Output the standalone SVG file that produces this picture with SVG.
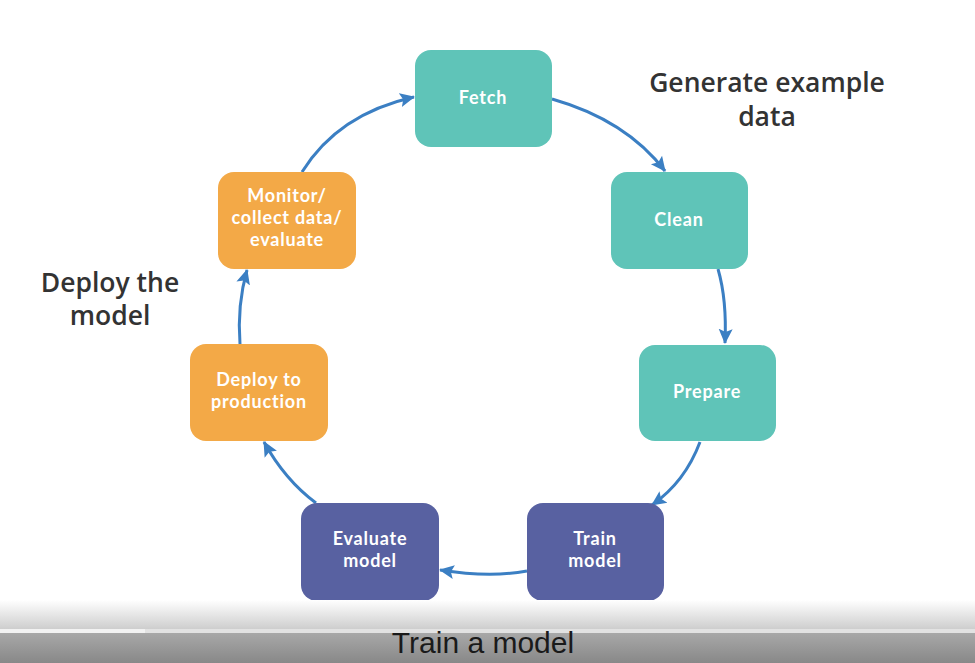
<svg xmlns="http://www.w3.org/2000/svg" width="975" height="663" viewBox="0 0 975 663">
<defs>
<style>
.teal{fill:#5fc4b8}
.purple{fill:#5861a1}
.orange{fill:#f3a947}
.lbl{font-family:Lato,"Open Sans","Liberation Sans",sans-serif;font-weight:700;font-size:18px;letter-spacing:0.8px;fill:#ffffff;text-anchor:middle}
.head{font-family:"Open Sans",Lato,"Liberation Sans",sans-serif;font-weight:600;font-size:26.5px;fill:#333333;text-anchor:middle}
.conn{fill:none;stroke:#3b7fc3;stroke-width:3;marker-end:url(#arr)}
</style>
<marker id="arr" markerUnits="userSpaceOnUse" markerWidth="16" markerHeight="16" viewBox="0 0 16 16" refX="14" refY="8" orient="auto">
<path d="M0,1 L15,8 L0,15 L3,8 Z" fill="#3b7fc3"/>
</marker>
<linearGradient id="fadeTop" x1="0" y1="0" x2="0" y2="1">
<stop offset="0" stop-color="#ffffff" stop-opacity="1"/>
<stop offset="1" stop-color="#cccccc"/>
</linearGradient>
<linearGradient id="bar" x1="0" y1="0" x2="0" y2="1">
<stop offset="0" stop-color="#a8a8a8"/>
<stop offset="1" stop-color="#888888"/>
</linearGradient>
</defs>
<rect width="975" height="663" fill="#ffffff"/>
<g id="connectors">
<path class="conn" d="M302 172 Q338 114 414 97"/>
<path class="conn" d="M552 99 Q626 120 665 171"/>
<path class="conn" d="M718 269 Q727 300 725 343"/>
<path class="conn" d="M700 442 Q685 482 652 505"/>
<path class="conn" d="M527 571 Q490 578 440 570"/>
<path class="conn" d="M316 503 Q285 480 264 442"/>
<path class="conn" d="M240 344 Q237 305 247 270"/>
</g>
<g id="fetch"><rect class="teal" x="415" y="50" width="137" height="97" rx="16"/><text class="lbl" x="483" y="104">Fetch</text></g>
<g id="clean"><rect class="teal" x="611" y="172" width="137" height="97" rx="16"/><text class="lbl" x="679" y="226">Clean</text></g>
<g id="prepare"><rect class="teal" x="639" y="345" width="137" height="96" rx="16"/><text class="lbl" x="707" y="398">Prepare</text></g>
<g id="train"><rect class="purple" x="527" y="503" width="137" height="98" rx="16"/><text class="lbl" x="595" y="545">Train</text><text class="lbl" x="595" y="567">model</text></g>
<g id="evaluate"><rect class="purple" x="301" y="503" width="138" height="98" rx="16"/><text class="lbl" x="370" y="545">Evaluate</text><text class="lbl" x="370" y="567">model</text></g>
<g id="deploy"><rect class="orange" x="190" y="344" width="138" height="97" rx="16"/><text class="lbl" x="259" y="386">Deploy to</text><text class="lbl" x="259" y="408">production</text></g>
<g id="monitor"><rect class="orange" x="218" y="172" width="138" height="97" rx="16"/><text class="lbl" x="287" y="202">Monitor/</text><text class="lbl" x="287" y="224">collect data/</text><text class="lbl" x="287" y="246">evaluate</text></g>
<g id="headings">
<text class="head" x="767" y="92">Generate example</text>
<text class="head" x="767" y="126">data</text>
<text class="head" x="110" y="292">Deploy the</text>
<text class="head" x="110" y="325">model</text>
</g>
<g id="bottom-bar">
<rect x="0" y="600" width="975" height="30" fill="url(#fadeTop)"/>
<rect x="0" y="629" width="975" height="4" fill="#e2e2e2"/>
<rect x="0" y="629" width="145" height="4" fill="#f2f2f2"/>
<rect x="0" y="633" width="975" height="30" fill="url(#bar)"/>
<text x="483" y="653" font-family="'Liberation Sans',Arial,sans-serif" font-size="30" fill="#1a1a1a" text-anchor="middle">Train a model</text>
</g>
</svg>
